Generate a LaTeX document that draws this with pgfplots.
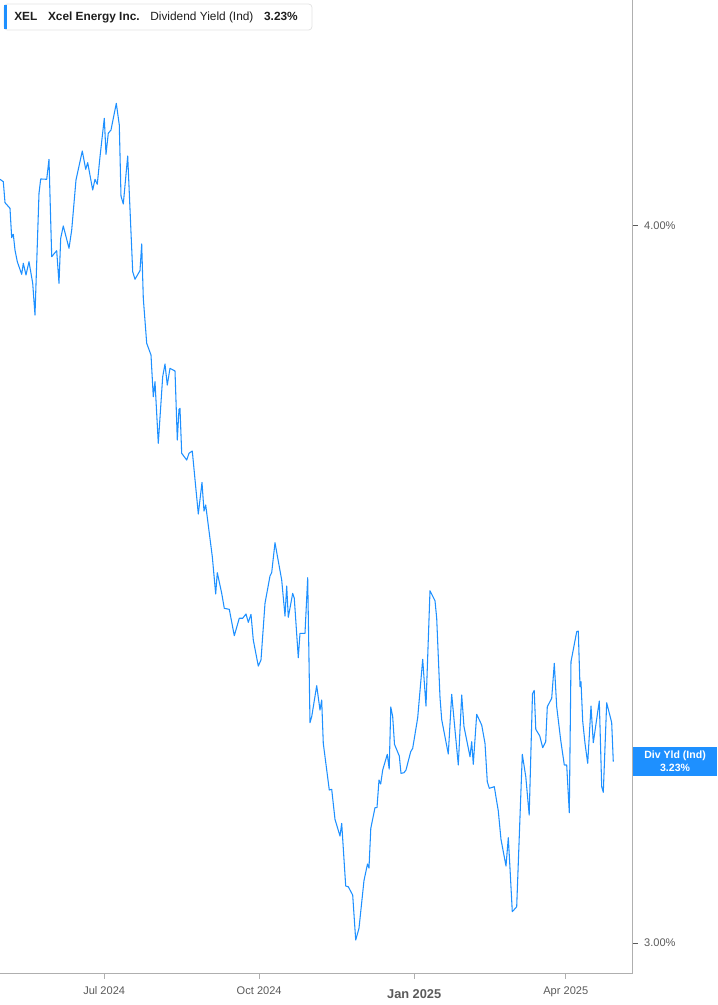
\documentclass[border=0pt]{standalone}
\usepackage{fontspec}
\setmainfont{Liberation Sans}
\usepackage{pgfplots}
\pgfplotsset{compat=1.18}
\definecolor{lineblue}{RGB}{30,144,255}
\definecolor{axgray}{RGB}{175,175,175}
\definecolor{ticktext}{RGB}{90,90,90}
\definecolor{legtext}{RGB}{30,30,30}
\definecolor{legborder}{RGB}{228,228,228}
\pgfplotstableread{
d y
-61.85 4.0651
-59.89 4.0618
-58.88 4.0325
-55.92 4.0247
-54.91 3.9837
-53.96 3.9884
-52.95 3.9665
-51.58 3.9502
-48.97 3.9326
-48.02 3.9480
-46.42 3.9317
-44.64 3.9502
-42.44 3.9201
-41.08 3.8759
-38.70 4.0456
-37.69 4.0656
-34.13 4.0651
-32.77 4.0930
-31.16 3.9572
-28.20 3.9656
-26.83 3.9201
-25.82 3.9828
-24.28 4.0000
-20.89 3.9689
-19.29 3.9944
-16.74 4.0642
-13.00 4.1046
-10.98 4.0791
-9.79 4.0883
-6.83 4.0502
-5.46 4.0651
-4.10 4.0582
-2.49 4.0967
0.06 4.1502
1.07 4.1000
2.43 4.1293
4.04 4.1339
7.18 4.1711
8.96 4.1409
9.97 4.0418
11.34 4.0307
13.95 4.0976
16.92 3.9363
18.28 3.9257
21.25 3.9377
22.26 3.9749
23.21 3.8992
25.23 3.8364
27.78 3.8201
29.14 3.7619
30.15 3.7828
32.11 3.6969
34.72 3.7898
36.09 3.8075
37.45 3.7782
39.06 3.8015
42.03 3.7978
43.39 3.7015
44.40 3.7444
44.99 3.7457
46.00 3.6830
48.97 3.6736
50.34 3.6830
52.29 3.6862
55.86 3.5983
58.05 3.6423
59.24 3.6025
60.25 3.6109
64.17 3.5388
66.18 3.4868
67.13 3.5165
69.75 3.4877
71.29 3.4668
74.26 3.4654
77.22 3.4286
80.19 3.4529
82.21 3.4529
84.17 3.4589
85.54 3.4473
87.14 3.4584
88.50 3.4226
91.47 3.3863
93.07 3.3947
95.45 3.4738
98.42 3.5119
99.42 3.5165
101.38 3.5583
105.36 3.5063
107.32 3.4561
108.33 3.4979
109.28 3.4543
111.89 3.4877
112.84 3.4808
115.21 3.3979
116.22 3.4319
119.19 3.4319
120.79 3.5095
122.16 3.3073
123.17 3.3156
126.14 3.3589
128.09 3.3250
129.10 3.3389
130.05 3.2785
133.61 3.2134
135.04 3.2144
137.00 3.1725
139.97 3.1492
140.98 3.1669
143.35 3.0795
144.89 3.0785
147.50 3.0669
149.29 3.0042
151.24 3.0205
154.21 3.0872
156.29 3.1102
157.18 3.1046
158.25 3.1600
160.74 3.1887
161.93 3.1890
163.12 3.2273
164.13 3.2218
165.31 3.2413
168.04 3.2632
169.17 3.2427
170.12 3.3292
171.25 3.3156
172.32 3.2771
175.17 3.2608
176.17 3.2367
177.95 3.2375
179.14 3.2413
181.93 3.2668
183.12 3.2715
186.09 3.3142
189.06 3.3957
191.01 3.3305
193.39 3.4913
196.36 3.4774
197.37 3.4529
199.32 3.3431
200.33 3.3117
204.25 3.2636
206.27 3.3469
208.23 3.2971
210.19 3.2483
212.21 3.3459
213.57 3.3017
215.17 3.2831
217.13 3.2598
218.14 3.2808
219.09 3.2492
221.11 3.3190
224.08 3.3040
226.04 3.2785
227.40 3.2250
228.59 3.2158
231.56 3.2180
233.93 3.1841
235.53 3.1446
238.50 3.1074
239.87 3.1469
240.88 3.1042
242.24 3.0437
244.85 3.0506
248.18 3.2632
250.25 3.2319
252.27 3.1785
254.23 3.3477
255.24 3.3523
256.19 3.2980
258.56 3.2887
260.28 3.2724
262.07 3.2808
263.02 3.3296
265.63 3.3413
267.17 3.3901
268.60 3.3296
270.97 3.2831
273.11 3.2483
274.53 3.2483
276.08 3.1817
277.08 3.3923
280.47 3.4342
281.42 3.4351
282.43 3.3575
283.02 3.3644
284.03 3.3096
285.40 3.2785
287.00 3.2506
288.96 3.3305
290.32 3.2794
293.88 3.3375
295.31 3.2180
296.26 3.2102
298.27 3.3351
301.24 3.3073
302.19 3.2529
}\yielddata
\begin{document}
\begin{tikzpicture}
\useasboundingbox (0,-23.625pt) rectangle (537.75pt,730.125pt);
\begin{axis}[
  at={(0,0)}, anchor=south west,
  scale only axis, width=474.375pt, height=730.125pt,
  xmin=-61.85, xmax=313.6, ymin=2.9575, ymax=4.3152,
  clip=false,
  axis x line*=bottom, axis y line*=right,
  axis line style={draw=axgray, line width=1.1pt},
  xtick={0,92,184,274},
  xticklabels={Jul 2024,Oct 2024,{\raisebox{-3pt}{\fontsize{9.6pt}{11pt}\selectfont\bfseries Jan 2025}},Apr 2025},
  ytick={3,4}, yticklabels={3.00\%,4.00\%},
  tick align=outside,
  major tick length=4pt,
  minor tick num=0,
  x tick style={draw=axgray, line width=0.75pt},
  y tick style={draw=ticktext, line width=0.75pt},
  tick label style={font=\fontsize{8.3pt}{10pt}\selectfont, text=ticktext},
  xticklabel style={anchor=base, yshift=-11.5pt},
  yticklabel style={anchor=west, xshift=1.2pt},
  /pgf/number format/assume math mode=true,
]
\addplot[color=lineblue, line width=0.8pt, line join=round] table[x=d, y=y] {\yielddata};
\node[fill=lineblue, text=white, anchor=west, minimum width=63.4pt, minimum height=22pt,
      inner sep=0pt, align=center, font=\bfseries\fontsize{7.9pt}{9.75pt}\selectfont]
      at (axis cs:313.6,3.2529) {Div Yld (Ind)\\3.23\%};
\end{axis}
\draw[legborder, line width=0.6pt, rounded corners=2.5pt, fill=white] (3pt,707.6pt) rectangle (234pt,727.1pt);
\fill[lineblue] (3pt,708.2pt) rectangle (5.4pt,726.5pt);
\node[anchor=base west, inner sep=0pt, text=legtext, font=\fontsize{8.9pt}{10pt}\selectfont] at (10.5pt,714.4pt)
  {\textbf{XEL}\hspace{8pt}\textbf{Xcel Energy Inc.}\hspace{8pt}Dividend Yield (Ind)\hspace{8pt}\textbf{3.23\%}};
\end{tikzpicture}
\end{document}
